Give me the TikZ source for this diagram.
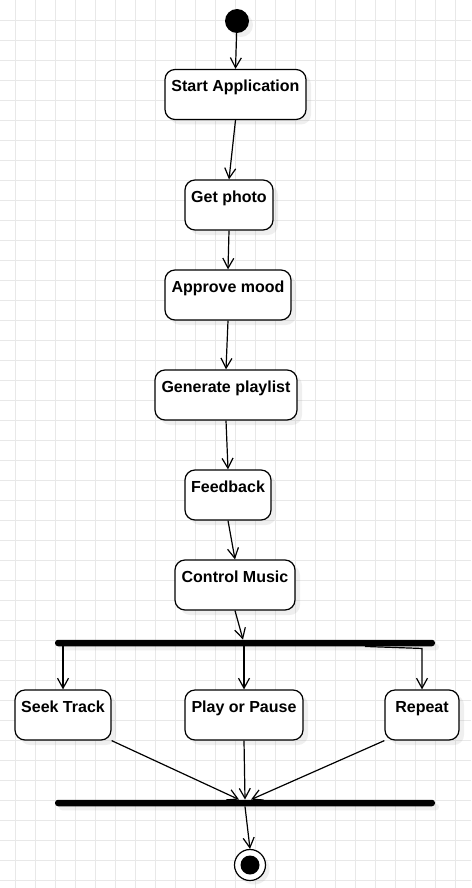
\documentclass[tikz,border=0pt]{standalone}
\usepackage{fontspec}
\setmainfont{Liberation Sans}
\usetikzlibrary{shapes,arrows.meta,shadows}

\begin{document}
\begin{tikzpicture}[x=1pt,y=-1pt,
	act/.style={draw,rounded corners=10pt,line width=1.2pt,fill=white,inner xsep=2pt,inner ysep=4pt,text height=18pt,text depth=24pt,minimum height=50pt,font=\fontsize{16}{19}\selectfont\bfseries,drop shadow={shadow xshift=5pt,shadow yshift=-5pt,opacity=0.12}},
	flow/.style={line width=1.2pt,-{Straight Barb[length=10pt,width=11pt]}},
	bar/.style={fill=black,inner sep=0pt,minimum width=380pt,minimum height=6.5pt,rounded corners=3pt,drop shadow={shadow xshift=4pt,shadow yshift=-4pt,opacity=0.12}},
	gridline/.style={draw=gridgrey,line width=0.8pt}]
					\definecolor{gridgrey}{HTML}{E8E8E8}
					\useasboundingbox (0,0) rectangle (471,888);
					\fill[white] (0,0) rectangle (471,888);
					\foreach \gx in {15,35,...,455} \draw[gridline] (\gx,0) -- (\gx,888);
					\foreach \gy in {20,40,...,880} \draw[gridline] (0,\gy) -- (471,\gy);

					\node[circle,fill=black,minimum size=24pt,inner sep=0pt,drop shadow={shadow xshift=4pt,shadow yshift=-4pt,opacity=0.12}] (initial) at (237,21) {};
					\node[act,minimum width=141pt] (start) at (235.5,94.5) {Start Application};
					\node[act,minimum width=88pt] (photo) at (229,205) {Get photo};
					\node[act,minimum width=126pt] (mood) at (228,295) {Approve mood};
					\node[act,minimum width=142pt] (playlist) at (226,395) {Generate playlist};
					\node[act,minimum width=86pt] (feedback) at (228,495) {Feedback};
					\node[act,minimum width=120pt] (control) at (235,585) {Control Music};
					\node[bar] (fork) at (245,643) {};
					\node[act,minimum width=96pt] (seek) at (63,715) {Seek Track};
					\node[act,minimum width=118pt] (play) at (244,715) {Play or Pause};
					\node[act,minimum width=74pt] (repeat) at (422,715) {Repeat};
					\node[bar] (join) at (245,803) {};
					\node[circle,draw,line width=1.2pt,fill=white,minimum size=31pt,inner sep=0pt,drop shadow={shadow xshift=4pt,shadow yshift=-4pt,opacity=0.12},path picture={\fill[black] (path picture bounding box.center) circle (9.5pt);}] (final) at (250,865) {};

					\draw[flow] (initial) -- (start.north);
					\draw[flow] (start.south) -- (photo.north);
					\draw[flow] (photo.south) -- (mood.north);
					\draw[flow] (mood.south) -- (playlist.north);
					\draw[flow] (playlist.south) -- (feedback.north);
					\draw[flow] (feedback.south) -- (control.north);
					\draw[flow] (control.south) -- ([xshift=-2pt]fork.north);
					\draw[flow] (fork.south -| seek.north) -- (seek.north);
					\draw[flow] (fork.south -| play.north) -- (play.north);
					\draw[flow] ([xshift=120pt]fork.south) -- ([yshift=-2pt]fork.south -| repeat.north) -- (repeat.north);
					\draw[flow] (seek.south east) -- ([xshift=-6pt]join.north);
					\draw[flow] (play.south) -- (join.north);
					\draw[flow] (repeat.south west) -- ([xshift=6pt]join.north);
					\draw[flow] (join.south) -- (final.north);
				\end{tikzpicture}
\end{document}
